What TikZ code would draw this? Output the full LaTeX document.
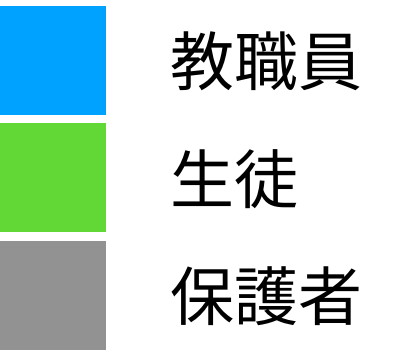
\documentclass[tikz,border=0pt]{standalone}
\usepackage{fontspec}
\newfontfamily\cjk{Noto Sans CJK JP}
\definecolor{kblue}{HTML}{00A2FF}
\definecolor{kgreen}{HTML}{61D836}
\definecolor{kgray}{HTML}{929292}
\begin{document}
\begin{tikzpicture}[x=1pt,y=-1pt,
  swatch/.style={fill=#1,draw=none},
  lbl/.style={anchor=west,inner sep=0pt,font=\cjk\fontsize{64}{64}\selectfont}]
\useasboundingbox (0,0) rectangle (401,350);
\fill[kblue] (0,6) rectangle (106,115);
\fill[kgreen] (0,123) rectangle (106,232);
\fill[kgray] (0,241) rectangle (106,350);
\node[lbl] (t1) at (170,61) {教職員};
\node[lbl] (t2) at (170,179) {生徒};
\node[lbl] (t3) at (170,296.5) {保護者};
\end{tikzpicture}
\end{document}
